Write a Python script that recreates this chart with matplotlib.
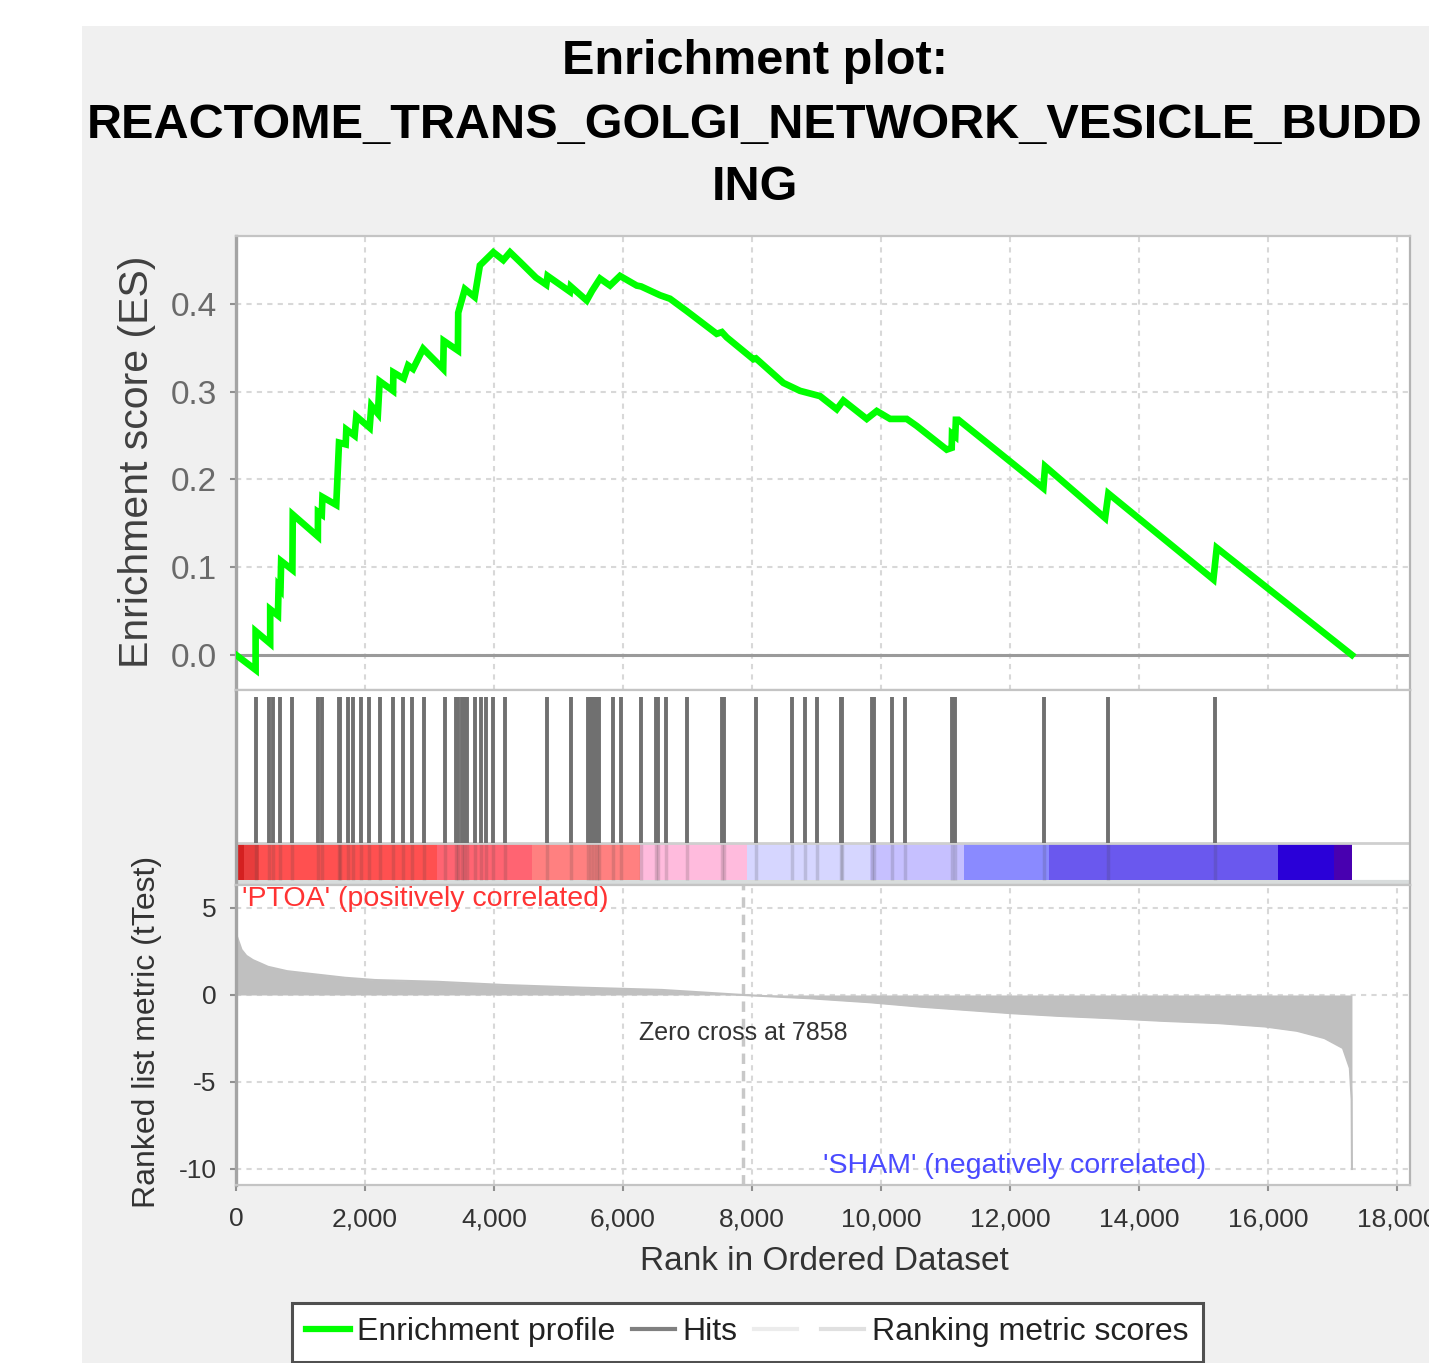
import matplotlib
matplotlib.use("Agg")
import matplotlib.pyplot as plt
from matplotlib.lines import Line2D
from matplotlib.patches import Rectangle

plt.rcParams['font.family'] = ['Liberation Sans', 'DejaVu Sans']
plt.rcParams['axes.unicode_minus'] = False

# ---- data ----
title_lines = ["Enrichment plot:", "REACTOME_TRANS_GOLGI_NETWORK_VESICLE_BUDD", "ING"]

# running enrichment score (rank, ES) vertices
es_rank = [0, 304, 304, 530, 530, 650, 660, 690, 700, 874, 880, 1269, 1271, 1330, 1340,
           1554, 1597, 1700, 1710, 1839, 1865, 2072, 2098, 2200, 2227, 2435, 2440, 2600,
           2668, 2745, 2901, 3212, 3220, 3440, 3445, 3548, 3700, 3781, 3989, 4144, 4248,
           4403, 4651, 4810, 4830, 5178, 5190, 5437, 5520, 5643, 5720, 5798, 5953, 6212,
           6280, 6573, 6728, 6987, 7452, 7532, 7607, 8021, 8060, 8486, 8744, 9054, 9313,
           9416, 9778, 9933, 10140, 10398, 10553, 11018, 11095, 11100, 11150, 11160, 11199,
           12516, 12543, 13473, 13524, 15152, 15204, 17298]
es_score = [0.0, -0.017, 0.027, 0.013, 0.052, 0.045, 0.078, 0.075, 0.107, 0.097, 0.160, 0.135,
            0.163, 0.160, 0.180, 0.171, 0.242, 0.240, 0.257, 0.250, 0.272, 0.259, 0.284, 0.275,
            0.312, 0.301, 0.322, 0.315, 0.330, 0.326, 0.349, 0.326, 0.358, 0.347, 0.390, 0.417,
            0.408, 0.444, 0.459, 0.450, 0.459, 0.448, 0.430, 0.422, 0.432, 0.414, 0.420, 0.404,
            0.415, 0.429, 0.425, 0.421, 0.432, 0.421, 0.420, 0.410, 0.406, 0.392, 0.366, 0.368,
            0.362, 0.337, 0.338, 0.310, 0.301, 0.295, 0.280, 0.290, 0.269, 0.278, 0.269, 0.269,
            0.261, 0.234, 0.236, 0.252, 0.249, 0.268, 0.268, 0.190, 0.215, 0.156, 0.184, 0.086,
            0.122, 0.0]

hit_ranks = [304, 518, 577, 679, 874, 1271, 1330, 1597, 1620, 1729, 1814, 1938, 2062, 2226,
             2428, 2595, 2729, 2909, 3240, 3408, 3440, 3500, 3540, 3580, 3705, 3794, 3870,
             3989, 4171, 4822, 5188, 5454, 5500, 5550, 5590, 5630, 5840, 5969, 6273, 6505,
             6540, 6659, 6986, 7532, 7560, 8054, 8617, 8817, 9008, 9380, 9400, 9860, 9890,
             10170, 10372, 11095, 11152, 12527, 13515, 15174]

# ranked list metric (tTest)
metric_rank = [0, 20, 85, 160, 264, 400, 496, 791, 1093, 1690, 2155, 3112, 4178, 5364, 6605,
               7858, 8900, 9830, 10605, 11318, 12031, 12744, 13529, 14383, 15237, 15949,
               16448, 16875, 17160, 17267, 17295, 17300]
metric_value = [3.5, 3.3, 2.6, 2.25, 2.0, 1.78, 1.62, 1.37, 1.24, 0.99, 0.86, 0.76, 0.57, 0.42,
                0.29, 0.0, -0.19, -0.42, -0.67, -0.86, -1.05, -1.2, -1.33, -1.49, -1.62, -1.81,
                -2.06, -2.48, -3.05, -4.2, -6.0, -10.0]
zero_cross = 7858

# heat bar segments (start rank, end rank)
bar_start = [0, 120, 360, 3116, 4589, 6264, 7922, 9829, 11287, 12605, 16155, 17023]
bar_end = [120, 360, 3116, 4589, 6264, 7922, 9829, 11287, 12605, 16155, 17023, 17300]
bar_colors = ['#d42020', '#e83c3c', '#ff5050', '#ff6472', '#ff8080', '#ffbbdd',
              '#d6d6ff', '#c6c0ff', '#8a8aff', '#6a58ee', '#2a00d8', '#4800b0']

x_ticks = list(range(0, 18001, 2000))
es_ticks = [0.0, 0.1, 0.2, 0.3, 0.4]
metric_ticks = [-10, -5, 0, 5]

# ---- figure ----
W, H = 1429, 1363
fig = plt.figure(figsize=(W / 100, H / 100), dpi=100, facecolor='white')
fig.patches.append(Rectangle((82 / W, 0), 1, 1 - 26 / H, transform=fig.transFigure,
                             facecolor='#f0f0f0', edgecolor='none', zorder=-10))


def px_axes(x0, y0, x1, y1):
    return fig.add_axes([x0 / W, 1 - y1 / H, (x1 - x0) / W, (y1 - y0) / H])


ax_es = px_axes(236, 236, 1410, 690)
ax_hit = px_axes(236, 690, 1410, 885)
ax_rk = px_axes(236, 885, 1410, 1185)

grid_kw = dict(color='#d8d8d8', lw=1.5, ls=(0, (2.5, 2.5)))
for ax in (ax_es, ax_hit, ax_rk):
    ax.set_facecolor('white')
    ax.set_xlim(0, 18200)
    for s in ax.spines.values():
        s.set_color('#c4c4c4')
        s.set_linewidth(1.6)
    ax.spines['left'].set_color('#a4a4a4')
    ax.spines['left'].set_linewidth(2.4)
    ax.spines['right'].set_color('#b4b4b4')

# enrichment score panel
ax_es.set_ylim(-0.04, 0.4775)
ax_es.set_xticks(x_ticks)
ax_es.set_yticks(es_ticks)
ax_es.set_yticklabels([f"{v:.1f}" for v in es_ticks])
ax_es.grid(True, **grid_kw)
ax_es.axhline(0, color='#9a9a9a', lw=2.2, zorder=2)
ax_es.plot(es_rank, es_score, color='#00ff00', lw=4.8, zorder=3, solid_joinstyle='miter')
ax_es.tick_params(axis='x', length=0, labelbottom=False)
ax_es.tick_params(axis='y', length=4, width=1.5, color='#909090', labelsize=24,
                  labelcolor='#6a6a6a', pad=10)
ax_es.set_axisbelow(True)

# hits + heat bar panel
ax_hit.set_ylim(0, 1)
ax_hit.set_xticks([])
ax_hit.set_yticks([])
ax_hit.vlines(hit_ranks, 0.215, 0.964, color='#707070', lw=2.8, zorder=3)
for b0, b1, c in zip(bar_start, bar_end, bar_colors):
    ax_hit.bar(b0, 0.189, width=b1 - b0, bottom=0.026, align='edge', color=c, lw=0, zorder=1)
ax_hit.vlines(hit_ranks, 0.026, 0.215, color='#404040', lw=2.5, alpha=0.18, zorder=2)
ax_hit.axhline(0.215, color='#cfcfcf', lw=2, zorder=2)
ax_hit.axhline(0.015, color='#d8dcdc', lw=3, zorder=0)

# ranked list panel
ax_rk.set_ylim(-10.92, 6.32)
ax_rk.set_xticks(x_ticks)
ax_rk.set_xticklabels([f"{v:,}" for v in x_ticks])
ax_rk.set_yticks(metric_ticks)
ax_rk.grid(True, **grid_kw)
ax_rk.set_axisbelow(True)
ax_rk.fill_between(metric_rank, metric_value, 0, color='#c0c0c0', lw=0, zorder=2)
ax_rk.plot(metric_rank, metric_value, color='#c0c0c0', lw=1.5, zorder=2)
ax_rk.axvline(zero_cross, color='#c8c8c8', lw=2.5, ls=(0, (3, 2)), zorder=1)
ax_rk.tick_params(axis='x', length=4, width=1.5, color='#909090', labelsize=19,
                  labelcolor='#333333', pad=12)
ax_rk.tick_params(axis='y', length=4, width=1.5, color='#909090', labelsize=19,
                  labelcolor='#333333', pad=10)
ax_rk.text(zero_cross, -2.2, f"Zero cross at {zero_cross}", ha='center', va='center',
           fontsize=18, color='#333333')
ax_rk.text(100, 5.5, "'PTOA' (positively correlated)", ha='left', va='center',
           fontsize=20.5, color='#ff3333')
ax_rk.text(12075, -9.8, "'SHAM' (negatively correlated)", ha='center', va='center',
           fontsize=20.5, color='#4a4aff')

# labels
fig.text(755 / W, 1 - 62 / H, title_lines[0], ha='center', va='center', fontsize=35,
         fontweight='bold')
fig.text(755 / W, 1 - 125 / H, title_lines[1], ha='center', va='center', fontsize=35,
         fontweight='bold')
fig.text(755 / W, 1 - 188 / H, title_lines[2], ha='center', va='center', fontsize=35,
         fontweight='bold')
fig.text(137 / W, 1 - 462 / H, "Enrichment score (ES)", rotation=90, ha='center',
         va='center', fontsize=29.5, color='#404040')
fig.text(147 / W, 1 - 1032 / H, "Ranked list metric (tTest)", rotation=90, ha='center',
         va='center', fontsize=23, color='#333333')
fig.text(824 / W, 1 - 1262 / H, "Rank in Ordered Dataset", ha='center', va='center',
         fontsize=24, color='#333333')

# legend
handles = [Line2D([], [], color='#00ff00', lw=4.5),
           Line2D([], [], color='#808080', lw=3),
           Line2D([], [], color='#ececec', lw=3),
           Line2D([], [], color='#e0e0e0', lw=3)]
labels = ['Enrichment profile', 'Hits', '', 'Ranking metric scores']
leg = fig.legend(handles, labels, ncol=4, loc='upper left',
                 bbox_to_anchor=(292 / W, 1 - 1303 / H), borderaxespad=0,
                 fontsize=23, handlelength=1.35, handletextpad=0.25, columnspacing=0.5,
                 borderpad=0.45, fancybox=False, framealpha=1, edgecolor='#505050')
leg.get_frame().set_linewidth(2.2)
for t in leg.get_texts():
    t.set_color('#222222')

fig.savefig('out.png', dpi=100)
